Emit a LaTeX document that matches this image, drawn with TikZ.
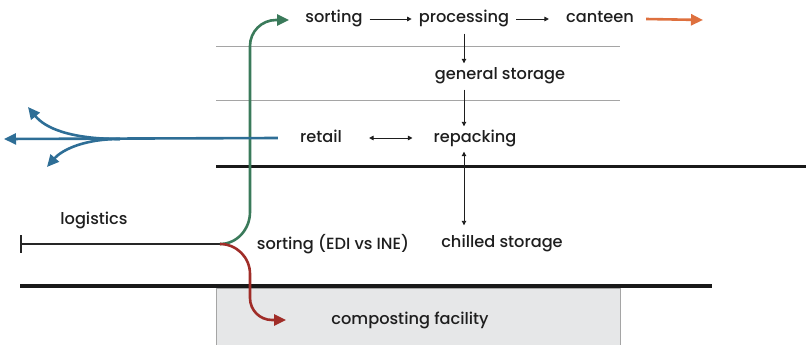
\documentclass[tikz,border=0pt]{standalone}
\usepackage{fontspec}
\setmainfont{Poppins}
\newfontfamily\pmed{Poppins Medium}
\usetikzlibrary{arrows.meta,calc}
\definecolor{cgreen}{RGB}{58,122,90}
\definecolor{cblue}{RGB}{46,110,150}
\definecolor{cred}{RGB}{160,45,40}
\definecolor{corange}{RGB}{222,112,62}
\definecolor{cgrayline}{RGB}{165,165,165}
\definecolor{cbox}{RGB}{230,231,232}
\definecolor{ctext}{RGB}{30,30,30}
\tikzset{
  lbl/.style={font=\pmed\fontsize{16.2}{19}\selectfont, text=ctext, inner xsep=7pt, inner ysep=4pt, text height=11.5pt, text depth=3.5pt},
  sarr/.style={draw=ctext, line width=0.9pt, -{Triangle[length=4.5pt,width=4.5pt]}},
  darr/.style={draw=ctext, line width=0.9pt, {Triangle[length=4.5pt,width=4.5pt]}-{Triangle[length=4.5pt,width=4.5pt]}},
  flow/.style={line width=2.6pt, -{Triangle[length=12pt,width=11pt]}},
  thinline/.style={draw=cgrayline, line width=1pt},
  wall/.style={draw=black!90, line width=3pt},
}
\begin{document}
\begin{tikzpicture}[x=1pt,y=-1pt]
\useasboundingbox (0,0) rectangle (806,345);
% composting box
\draw[fill=cbox, draw=cgrayline, line width=1pt] (216,288) rectangle (620,352);
% horizontal structure lines
\draw[thinline] (216,47) -- (620,47);
\draw[thinline] (216,100) -- (620,100);
\draw[wall] (216,166) -- (806,166);
\draw[wall, line width=4pt] (20,286) -- (712,286);
% text nodes
\node[lbl] (sorting) at (334,19) {sorting};
\node[lbl] (processing) at (464,19) {processing};
\node[lbl] (canteen) at (600,19) {canteen};
\node[lbl] (genstor) at (500,75) {general storage};
\node[lbl] (retail) at (321,138) {retail};
\node[lbl] (repacking) at (475,138) {repacking};
\node[lbl] (chilled) at (502,243) {chilled storage};
\node[lbl] (sortedi) at (333,245) {sorting (EDI vs INE)};
\node[lbl] (compost) at (410,320) {composting facility};
\node[lbl] (logistics) at (94,220) {logistics};
% coordinates
\coordinate (j) at (220,244);
\coordinate (lstart) at (21,244);
\coordinate (gtip) at (289,20);
\coordinate (rtip) at (286,320);
\coordinate (otip) at (703,20);
\coordinate (btip) at (4,139);
\coordinate (bsplit) at (120,139);
\coordinate (bup) at (28,107);
\coordinate (bdown) at (47,167);
% black arrows
\draw[sarr] (sorting) -- (processing);
\draw[sarr, shorten >=10pt] (processing) -- (canteen);
\draw[sarr] ([yshift=-3pt]processing.south) -- (processing.south |- genstor.north);
\draw[sarr] ([yshift=-3pt]genstor.south -| processing) -- (repacking.north -| processing);
\draw[darr, shorten <=20pt, shorten >=14pt] (retail) -- (repacking);
\draw[darr] ([yshift=-2pt]repacking.south -| processing) -- ([yshift=6pt]chilled.north -| processing);
% logistics line
\draw[draw=black!85, line width=2.5pt] (lstart) -- (j);
\draw[draw=black!85, line width=2pt] (21,235) -- (21,253);
% green flow
\draw[flow, draw=cgreen] (j) to[out=0,in=-90] (250,212) -- (250,46) to[out=90,in=180] (276,20) -- (gtip);
% red flow
\draw[flow, draw=cred] (j) to[out=0,in=90] (250,274) -- (250,298) to[out=-90,in=180] (272,320) -- (rtip);
% orange flow
\draw[flow, draw=corange] ([xshift=5pt]canteen.east) -- (otip);
% blue flows
\draw[flow, draw=cblue] ([xshift=-15pt]retail.west) -- (btip);
\draw[flow, draw=cblue] (bsplit) .. controls (70,139) and (45,128) .. (bup);
\draw[flow, draw=cblue] (bsplit) .. controls (80,139) and (60,152) .. (bdown);
\end{tikzpicture}
\end{document}
